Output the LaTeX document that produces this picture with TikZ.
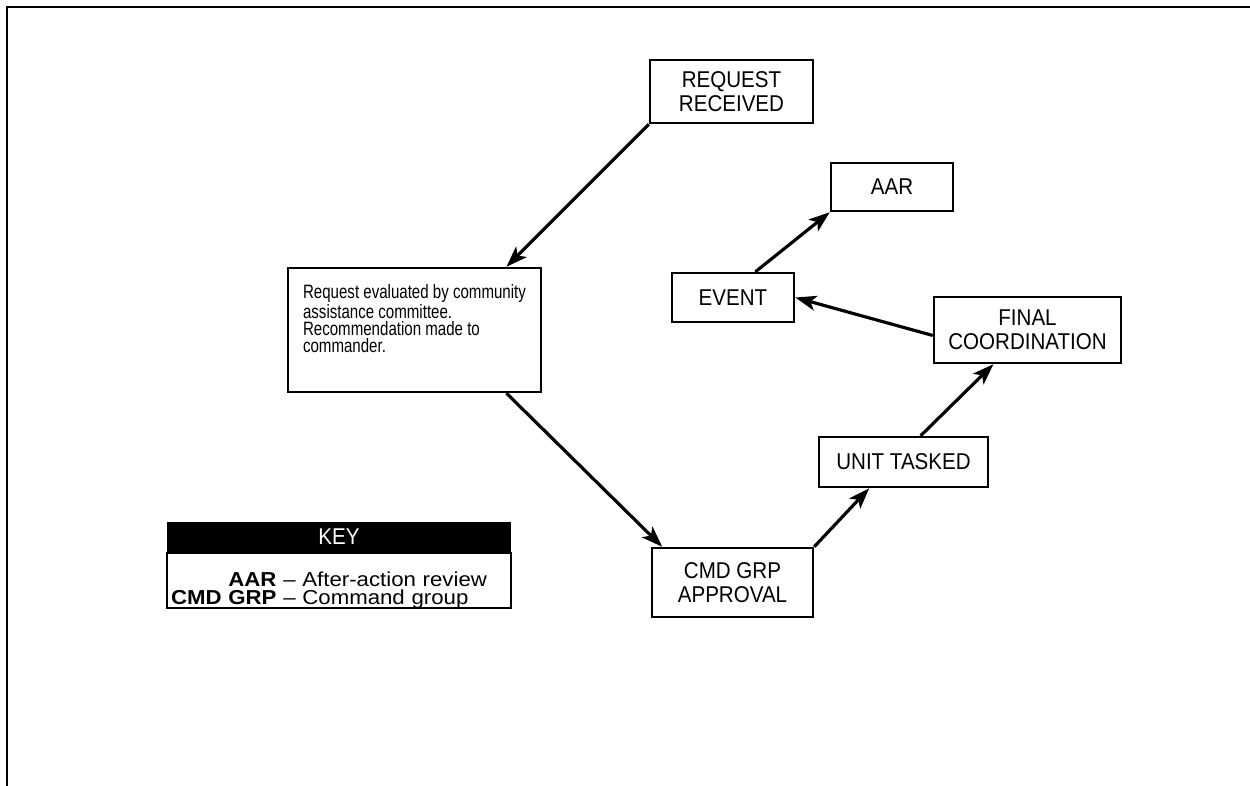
\documentclass[tikz,border=0pt]{standalone}
\usepackage{fontspec}
\setmainfont[FakeStretch=0.9]{Liberation Sans}
\newfontfamily\narrowfont[FakeStretch=0.78]{Liberation Sans}
\newfontfamily\keyfont[FakeStretch=1.1]{Liberation Sans}
\usepackage{tikz}
\usetikzlibrary{arrows.meta, positioning, calc}

\begin{document}
\begin{tikzpicture}[x=0.02cm, y=-0.02cm,
    stepbox/.style={rectangle, draw, line width=1.4pt, align=center, inner sep=0pt, font=\fontsize{13}{13.5}\selectfont},
    flow/.style={-{Stealth[length=12pt, width=8.5pt, inset=3pt]}, line width=1.8pt}]
    \useasboundingbox (0,0) rectangle (1250,786);
    \draw [line width=1.2pt] (7,786) -- (7,7) -- (1250,7);

    \node [stepbox, minimum width=3.26cm, minimum height=1.26cm] (req) at (731.5,91.5) {REQUEST\\RECEIVED};
    \node [stepbox, minimum width=5.06cm, minimum height=2.48cm, align=left, font=\narrowfont\fontsize{11}{9.7}\selectfont] (eval) at (414.5,330) {Request evaluated by community\\assistance committee.\\Recommendation made to\\commander.\rule[-0.45cm]{0pt}{0pt}};
    \node [stepbox, minimum width=3.22cm, minimum height=1.38cm] (cmd) at (732.5,582.5) {CMD GRP\\APPROVAL};
    \node [stepbox, minimum width=3.38cm, minimum height=1.0cm] (unit) at (903.5,462) {UNIT TASKED};
    \node [stepbox, minimum width=3.74cm, minimum height=1.32cm] (final) at (1027.5,330) {FINAL\\COORDINATION};
    \node [stepbox, minimum width=2.44cm, minimum height=0.98cm] (event) at (733,297.5) {EVENT};
    \node [stepbox, minimum width=2.44cm, minimum height=0.96cm] (aar) at (892,187) {AAR};

    % key
    \node [rectangle, fill=black, text=white, minimum width=6.88cm, minimum height=0.6cm, font=\fontsize{13}{13}\selectfont] (keyhead) at (339,537) {KEY};
    \node [rectangle, draw, line width=1.2pt, below=0pt of keyhead, text width=6.72cm, inner xsep=0.08cm, inner ysep=0pt, minimum height=1.1cm, align=left, font=\keyfont\fontsize{11.5}{10.2}\selectfont] (keybody) {%
        \rule{0pt}{0.65cm}\hphantom{\textbf{CMD GRP}}\llap{\textbf{AAR}} \textendash{} After-action review\\
        \textbf{CMD GRP} \textendash{} Command group};

    \draw [flow] (req.south west) -- ($(eval.north west)!0.86!(eval.north east)$);
    \draw [flow] ($(eval.south west)!0.86!(eval.south east)$) -- ($(cmd.north west)!0.07!(cmd.north east)$);
    \draw [flow] (cmd.north east) -- ($(unit.south west)!0.3!(unit.south east)$);
    \draw [flow] ($(unit.north west)!0.6!(unit.north east)$) -- ($(final.south west)!0.32!(final.south east)$);
    \draw [flow] ($(final.north west)!0.58!(final.south west)$) -- (event.east);
    \draw [flow] ($(event.north west)!0.68!(event.north east)$) -- (aar.south west);
\end{tikzpicture}
\end{document}
